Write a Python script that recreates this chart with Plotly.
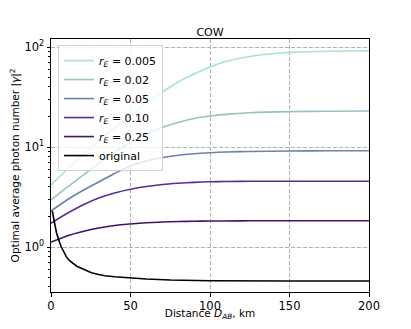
import plotly.graph_objects as go

# ─────────────────────────────────────────────
# Data
# ─────────────────────────────────────────────

distance = [0, 10, 20, 30, 40, 50, 60, 70, 80, 90, 100, 110, 125, 150, 175, 200]

gamma_r0005 = [4.17, 5.96, 8.32, 11.5, 15.5, 20.4, 27.5, 35.5, 44.7, 53.7, 63.1, 71.6, 80.4, 88.1, 90.8, 91.8]
gamma_r002 = [2.95, 3.94, 5.19, 6.84, 8.91, 11.2, 13.5, 15.7, 17.6, 19.3, 20.4, 21.2, 22.0, 22.6, 22.8, 22.9]
gamma_r005 = [2.29, 2.95, 3.67, 4.47, 5.43, 6.46, 7.24, 7.85, 8.28, 8.57, 8.77, 8.91, 9.02, 9.12, 9.16, 9.16]
gamma_r010 = [1.73, 2.16, 2.63, 3.09, 3.47, 3.78, 4.03, 4.22, 4.34, 4.43, 4.49, 4.52, 4.54, 4.55, 4.55, 4.55]
gamma_r025 = [1.12, 1.29, 1.43, 1.55, 1.64, 1.70, 1.75, 1.78, 1.80, 1.81, 1.82, 1.82, 1.83, 1.83, 1.83, 1.83]

distance_orig = [0.8, 1.5, 2.7, 3.5, 4.4, 5.5, 6.5, 8, 9.6, 11.5, 13.8, 16, 19.1, 22, 25.4,
                 30, 33.8, 40, 48, 60, 75, 100, 150, 200]
gamma_orig = [2.29, 1.95, 1.60, 1.38, 1.22, 1.10, 1.0, 0.891, 0.80, 0.733, 0.687, 0.646, 0.612,
              0.581, 0.553, 0.531, 0.516, 0.504, 0.493, 0.479, 0.468, 0.460, 0.457, 0.457]

series = [
    ("0.005", gamma_r0005, "#a3e8bf"),
    ("0.02",  gamma_r002,  "#92c4c5"),
    ("0.05",  gamma_r005,  "#6e7fb0"),
    ("0.10",  gamma_r010,  "#5b2b94"),
    ("0.25",  gamma_r025,  "#3c1468"),
]

y_tickvals = [1, 10, 100]
y_ticktext = ["10<sup>0</sup>", "10<sup>1</sup>", "10<sup>2</sup>"]
y_minor = [0.4, 0.5, 0.6, 0.7, 0.8, 0.9, 2, 3, 4, 5, 6, 7, 8, 9,
           20, 30, 40, 50, 60, 70, 80, 90]

# ─────────────────────────────────────────────
# Figure
# (page body has an 8px margin, so the figure is 16px smaller
#  and its margins are shifted by 8px)
# ─────────────────────────────────────────────

fig = go.Figure()

for r, vals, col in series:
    fig.add_trace(go.Scatter(
        x    = distance,
        y    = vals,
        mode = "lines",
        name = f"<i>r</i><sub><i>E</i></sub> = {r}",
        line = dict(color=col, width=1.6, shape="spline", smoothing=0.8),
    ))

fig.add_trace(go.Scatter(
    x    = distance_orig,
    y    = gamma_orig,
    mode = "lines",
    name = "original",
    line = dict(color="black", width=1.6),
))

axis_common = dict(
    automargin = True,
    showline   = True,
    mirror     = True,
    linecolor  = "black",
    linewidth  = 1,
    ticks      = "outside",
    ticklen    = 3.5,
    tickcolor  = "black",
    showgrid   = True,
    gridcolor  = "#b0b0b0",
    griddash   = "4px,2px",
    gridwidth  = 1,
    zeroline   = False,
    tickfont   = dict(size=11.5, color="black"),
)

fig.update_layout(
    width  = 395,
    height = 313,
    margin = dict(l=43, r=34, t=31, b=29, autoexpand=False),
    paper_bgcolor = "white",
    plot_bgcolor  = "white",
    font = dict(family="DejaVu Sans", color="black", size=10),
    title = dict(
        text = "COW",
        x = 0.5, xref = "paper", xanchor = "center",
        y = 1, yref = "paper", yanchor = "bottom",
        pad = dict(b=3),
        font = dict(size=11),
        automargin = False,
    ),
    xaxis = dict(
        **axis_common,
        range = [0, 200],
        tickvals = [0, 50, 100, 150, 200],
        title = dict(text="Distance <i>D</i><sub><i>AB</i></sub>, km", standoff=4, font=dict(size=10.5)),
    ),
    yaxis = dict(
        **axis_common,
        type = "log",
        range = [-0.45, 2.08],
        tickvals = y_tickvals,
        ticktext = y_ticktext,
        minor = dict(tickvals=y_minor, ticks="outside", ticklen=2, tickcolor="black", showgrid=False),
        title = dict(text="Optimal average photon number |<i>γ</i>|<sup>2</sup>", standoff=4, font=dict(size=10.5)),
    ),
    legend = dict(
        x = 0.022, y = 0.976,
        xanchor = "left", yanchor = "top",
        bgcolor = "rgba(255,255,255,0.8)",
        bordercolor = "#d0d0d0",
        borderwidth = 1,
        font = dict(size=11),
        itemwidth = 30,
        tracegroupgap = 0,
    ),
    showlegend = True,
)

fig.write_html("out.html")
